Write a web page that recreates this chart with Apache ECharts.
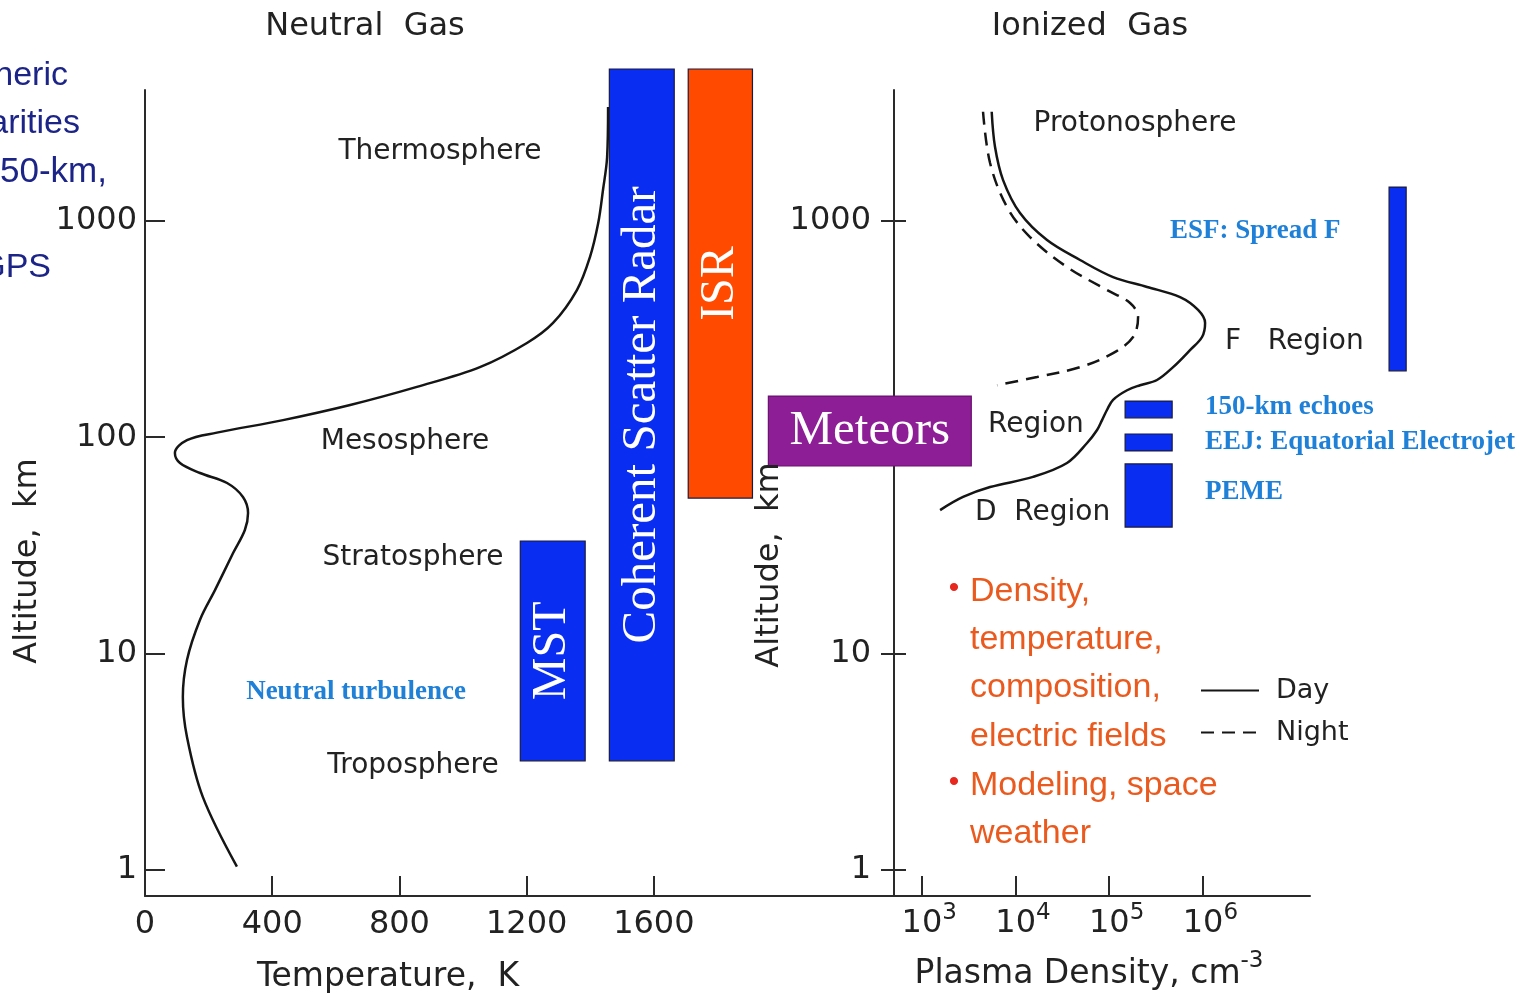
<!DOCTYPE html>
<html><head><meta charset="utf-8">
<script src="https://cdn.jsdelivr.net/npm/echarts@6/dist/echarts.min.js"></script>
<style>html,body{margin:0;padding:0;background:#fff}#c{width:1525px;height:998px}</style>
</head><body><div id="c"></div>
<script>
// ---------- DATA ----------
// Neutral gas temperature profile: [temperature K, altitude km]
const tempProfile = [[1456,3373],[1453,1980],[1440,1393],[1425,980],[1399,682],[1358,480],[1283,338],[1201,273],[1053,211],[855,171],[645,141],[434,120],[226,105],[132,97],[94,84.5],[110,76],[173,68.3],[258,61.4],[308,52.9],[324,44.6],[314,37.2],[277,29.1],[220,19.6],[173,14.3],[132,9.31],[119,6.28],[132,4.10],[182,2.16],[289,1.03]];
// Plasma density profiles: [density cm^-3, altitude km]
const dayProfile = [[5580,3208],[6050,2208],[7380,1549],[11190,1090],[21730,817],[48900,661],[110100,551],[253700,496],[571000,445],[888900,388],[1056000,338],[980000,291],[729000,253],[481000,211],[324000,184],[213600,174],[155300,165],[110100,149],[95000,134],[84000,120],[74300,108],[58100,94],[35500,76],[15400,65.5],[5360,58.8],[2760,52.9],[1570,46.0]];
const nightProfile = [[4510,3208],[5360,1858],[8130,1162],[14310,844],[35500,613],[95000,480],[167200,418],[203500,360],[180000,291],[110100,245],[48900,211],[17000,190],[6370,174]];
const tempTicks = [0,400,800,1200,1600];
const densityTicks = [1e3,1e4,1e5,1e6];
const altitudeTicks = [1,10,100,1000];
// Instrument coverage (neutral-gas panel): temperature span, altitude span
const instrumentNames = ['MST','Coherent Scatter Radar','ISR','Meteors'];
const instrumentT = [[1180,1384],[1460,1664],[1708,1910],[1960,2598]];
const instrumentAlt = [[3.18,33.1],[3.18,5060],[52.3,5060],[73.6,155]];
// Irregularity regions (ionized-gas panel): density span, altitude span
const irregNames = ['150-km echoes','EEJ','PEME','ESF'];
const irregDensity = [[1.48e5,4.70e5],[1.48e5,4.70e5],[1.48e5,4.70e5],[9.7e7,1.476e8]];
const irregAlt = [[123,147],[86.4,103.5],[38.4,75.2],[203,1438]];

// ---------- STYLE ----------
const INK = '#222';
const SANS = '"DejaVu Sans", sans-serif';
const SERIF = '"Liberation Serif", "DejaVu Serif", serif';
const ARIAL = '"Liberation Sans", sans-serif';
const boxColors = ['#0a2df2','#0a2df2','#ff4a00','#8e1e96'];
const boxFont = [48,49,48,49];
const boxRot = [Math.PI/2, Math.PI/2, Math.PI/2, 0];
const irregColor = '#0a2df2';

const instrumentData = instrumentNames.map((n,i)=>[instrumentT[i][0],instrumentT[i][1],instrumentAlt[i][0],instrumentAlt[i][1]]);
const irregData = irregNames.map((n,i)=>[irregDensity[i][0],irregDensity[i][1],irregAlt[i][0],irregAlt[i][1]]);

function boxRenderer(withText){
  return function(params, api){
    const i = params.dataIndex;
    const a = api.coord([api.value(0), api.value(3)]);
    const b = api.coord([api.value(1), api.value(2)]);
    const children = [{
      type:'rect',
      shape:{x:a[0], y:a[1], width:b[0]-a[0], height:b[1]-a[1]},
      style:{fill: withText ? boxColors[i] : irregColor, stroke: withText && i===3 ? '#6a1070' : '#1a1a40', lineWidth:1.2}
    }];
    if (withText){
      children.push({
        type:'text', x:(a[0]+b[0])/2, y:(a[1]+b[1])/2, rotation: boxRot[i],
        style:{text: instrumentNames[i], fill:'#fff', font: boxFont[i]+'px '+SERIF,
               align:'center', verticalAlign:'middle', textAlign:'center', textVerticalAlign:'middle'}
      });
    }
    return {type:'group', children};
  };
}

function txt(text, x, y, o){
  o = o || {};
  return {
    type:'text', x, y, rotation: o.rot || 0, z: 100,
    style:{text, fill: o.color || INK, font: (o.weight||'normal')+' '+(o.size||28)+'px '+(o.family||SANS),
      align: o.align || 'center', verticalAlign:'middle', textAlign: o.align || 'center', textVerticalAlign:'middle',
      rich: o.rich}
  };
}

const blue = '#1f80d8', orange = '#ea5a1e', navy = '#1c2488';
const blueOpt = a => ({family:SERIF, size:27, weight:'bold', color:blue, align:a});
const graphics = [
  txt('Neutral  Gas', 365, 27, {size:32}),
  txt('Ionized  Gas', 1090, 27, {size:32}),
  txt('Thermosphere', 440, 152),
  txt('Mesosphere', 405, 442),
  txt('Stratosphere', 413, 558),
  txt('Troposphere', 413, 766),
  txt('Neutral turbulence', 356, 692, blueOpt('center')),
  txt('Protonosphere', 1135, 124),
  txt('ESF: Spread F', 1170, 231, blueOpt('left')),
  txt('F   Region', 1225, 342, {align:'left'}),
  txt('Region', 988, 425, {align:'left'}),
  txt('D  Region', 975, 513, {align:'left'}),
  txt('150-km echoes', 1205, 407, blueOpt('left')),
  txt('EEJ: Equatorial Electrojet', 1205, 442, blueOpt('left')),
  txt('PEME', 1205, 492, blueOpt('left')),
  txt('Altitude,  km', 28, 561, {rot:Math.PI/2, size:32}),
  txt('Altitude,  km', 770, 565, {rot:Math.PI/2, size:32}),
  txt('Temperature,  K', 388, 977, {size:33}),
  txt('{a|Plasma Density, cm}{s|-3}', 1089, 974, {rich:{a:{fontSize:33, fontFamily:SANS, fill:INK, color:INK, lineHeight:48}, s:{fontSize:23, fontFamily:SANS, fill:INK, color:INK, verticalAlign:'top', lineHeight:24}}}),
  txt('Ionospheric', 68, 76, {family:ARIAL, size:34, color:navy, align:'right'}),
  txt('irregularities', 80, 124, {family:ARIAL, size:34, color:navy, align:'right'}),
  txt('150-km,', 107, 172, {family:ARIAL, size:35, color:navy, align:'right'}),
  txt('GPS', 51, 268, {family:ARIAL, size:34, color:navy, align:'right'}),
];
const bulletLines = ['Density,','temperature,','composition,','electric fields','Modeling, space','weather'];
const bulletY = [592,640,688,737,786,834];
bulletLines.forEach((l,i)=>graphics.push(txt(l, 970, bulletY[i], {family:ARIAL, size:34, color:orange, align:'left'})));
[592,786].forEach(y=>graphics.push(txt('•', 954, y-3, {family:ARIAL, size:30, color:'#e8281e'})));

const axisLine = {show:true, lineStyle:{color:'#2a2a2a', width:2}};
const labelStyle = {color:INK, fontSize:32, fontFamily:SANS};
const tickStyle = {color:'#2a2a2a', width:2};

const option = {
  backgroundColor:'#fff',
  animation:false,
  grid:[
    {left:145, top:90, width:749, height:806},
    {left:894, top:90, width:416, height:806}
  ],
  xAxis:[
    {type:'value', gridIndex:0, min:0, max:2355, axisLine,
     axisTick:{show:true, inside:true, length:20, lineStyle:tickStyle, customValues:tempTicks.slice(1)},
     axisLabel:Object.assign({customValues:tempTicks, margin:13, formatter:v=>String(v)}, labelStyle),
     splitLine:{show:false}},
    {type:'log', logBase:10, gridIndex:1, min:506, max:1.39e7, axisLine,
     axisTick:{show:true, inside:true, length:20, lineStyle:tickStyle, customValues:densityTicks},
     axisLabel:{customValues:densityTicks, margin:6, padding:[0,0,0,15],
       formatter:v=>'{b|10}{s|'+Math.round(Math.log10(v))+'}',
       rich:{b:{fontSize:32, fontFamily:SANS, color:INK, lineHeight:44}, s:{fontSize:23, fontFamily:SANS, color:INK, verticalAlign:'top', lineHeight:24}}},
     splitLine:{show:false}}
  ],
  yAxis:[
    {type:'log', logBase:10, gridIndex:0, min:0.753, max:4045, axisLine,
     axisTick:{show:true, inside:true, length:20, lineStyle:tickStyle, customValues:altitudeTicks},
     axisLabel:Object.assign({customValues:altitudeTicks, margin:8, formatter:v=>String(Math.round(v))}, labelStyle),
     splitLine:{show:false}},
    {type:'log', logBase:10, gridIndex:1, min:0.753, max:4045, axisLine,
     axisTick:{show:true, inside:true, length:12, lineStyle:tickStyle, customValues:altitudeTicks},
     axisLabel:Object.assign({customValues:altitudeTicks, margin:23, formatter:v=>String(Math.round(v))}, labelStyle),
     splitLine:{show:false}},
    {type:'log', logBase:10, gridIndex:1, position:'left', offset:0, min:0.753, max:4045, axisLine:{show:false},
     axisTick:{show:true, inside:false, length:13, lineStyle:tickStyle, customValues:altitudeTicks},
     axisLabel:{show:false}, splitLine:{show:false}}
  ],
  legend:{
    data:['Day','Night'], orient:'vertical', left:1195, top:672, itemWidth:58, itemHeight:14, itemGap:15,
    selectedMode:false, itemStyle:{opacity:0},
    textStyle:{color:INK, fontSize:27, fontFamily:SANS, padding:[0,0,0,12]}
  },
  series:[
    {name:'Temperature', type:'line', xAxisIndex:0, yAxisIndex:0, data:tempProfile, smooth:0.35, symbol:'none',
     lineStyle:{color:'#151515', width:2.5}, z:3},
    {name:'Day', type:'line', xAxisIndex:1, yAxisIndex:1, data:dayProfile, smooth:0.35, symbol:'none',
     lineStyle:{color:'#151515', width:2.5}, itemStyle:{color:'#151515'}, z:3},
    {name:'Night', type:'line', xAxisIndex:1, yAxisIndex:1, data:nightProfile, smooth:0.35, symbol:'none',
     lineStyle:{color:'#151515', width:2.5, type:[13,8]}, itemStyle:{color:'#151515'}, z:3},
    {name:'Instruments', type:'custom', xAxisIndex:0, yAxisIndex:0, data:instrumentData, clip:false,
     renderItem:boxRenderer(true), z:5},
    {name:'Irregularities', type:'custom', xAxisIndex:1, yAxisIndex:1, data:irregData, clip:false,
     renderItem:boxRenderer(false), z:5}
  ],
  graphic:{elements:graphics}
};
const chart = echarts.init(document.getElementById('c'));
chart.setOption(option);
</script></body></html>
